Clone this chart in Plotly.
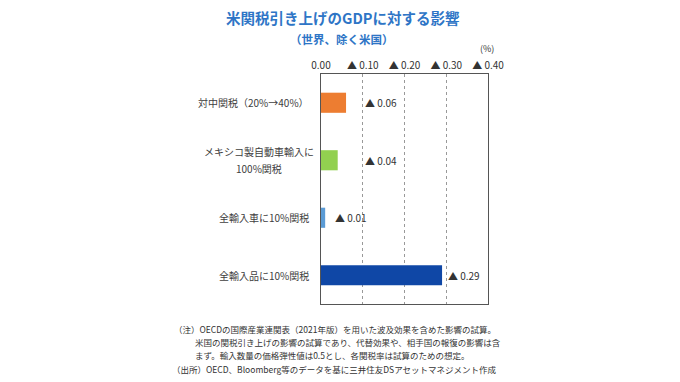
import plotly.graph_objects as go

categories = ["対中関税（20%→40%）", "メキシコ製自動車輸入に<br>100%関税", "全輸入車に10%関税", "全輸入品に10%関税"]
values = [0.06, 0.04, 0.01, 0.29]
value_labels = ["▲ 0.06", "▲ 0.04", "▲ 0.01", "▲ 0.29"]
tick_vals = [0.0, 0.1, 0.2, 0.3, 0.4]
tick_text = ["0.00", "▲ 0.10", "▲ 0.20", "▲ 0.30", "▲ 0.40"]
notes = [
    "（注）OECDの国際産業連関表（2021年版）を用いた波及効果を含めた影響の試算。",
    "米国の関税引き上げの影響の試算であり、代替効果や、相手国の報復の影響は含",
    "まず。輸入数量の価格弾性値は0.5とし、各関税率は試算のための想定。",
    "（出所）OECD、Bloomberg等のデータを基に三井住友DSアセットマネジメント作成",
]

bar_colors = ["#ED7D31", "#92D050", "#5B9BD5", "#0F47A6"]
label_x = [0.10, 0.10, 0.028, 0.30]
FONT = "Noto Sans CJK JP"
W, H = 680, 382
L, R, T, B = 321, 192, 74, 78
PW, PH = W - L - R, H - T - B


def px2paper(px, py):
    return (px - L) / PW, (H - B - py) / PH


fig = go.Figure()
fig.add_trace(go.Bar(
    x=values, y=categories, orientation="h",
    marker=dict(color=bar_colors, line=dict(width=0)),
    width=0.35, hoverinfo="skip",
))

for c, lx, lab in zip(categories, label_x, value_labels):
    fig.add_annotation(x=lx, y=c, text=lab, showarrow=False, xanchor="left",
                       font=dict(family=FONT, size=10, color="#333333"))
    lines = c.split("<br>")
    n = len(lines)
    for i, ln in enumerate(lines):
        shift = ((n - 1) / 2 - i) * 17
        fig.add_annotation(x=-0.06, xref="paper", y=c, text=ln, showarrow=False,
                           xanchor="right" if n == 1 else "center",
                           yshift=shift,
                           font=dict(family=FONT, size=10, color="#404040"))

# center multi-line labels on the widest line's center
for a in fig.layout.annotations:
    if a.xanchor == "center" and a.xref == "paper":
        a.x = -0.06 - 52 / PW

fig.update_layout(
    width=W, height=H,
    margin=dict(l=L, r=R, t=T, b=B),
    paper_bgcolor="white", plot_bgcolor="white",
    showlegend=False,
    font=dict(family=FONT, color="#404040"),
    xaxis=dict(side="top", range=[0, 0.4], tickvals=tick_vals, ticktext=tick_text,
               showgrid=True, gridcolor="#999999", griddash="dot", gridwidth=1,
               showline=True, linecolor="#555555", linewidth=1, mirror=True,
               zeroline=False, ticks="", tickfont=dict(family=FONT, size=10, color="#333333"),
               fixedrange=True),
    yaxis=dict(categoryorder="array", categoryarray=categories, autorange="reversed",
               showticklabels=False, showgrid=False, showline=True, linecolor="#555555",
               linewidth=1, mirror=True, ticks="", fixedrange=True),
)

# Title, subtitle and unit
for (px, py), txt, size, col in [
    ((342, 17), "<b>米関税引き上げのGDPに対する影響</b>", 14.5, "#2E75C6"),
    ((342, 39), "<b>（世界、除く米国）</b>", 11.5, "#2E75C6"),
    ((487, 48), "(%)", 9, "#333333"),
]:
    ax, ay = px2paper(px, py)
    fig.add_annotation(x=ax, y=ay, xref="paper", yref="paper", xanchor="center",
                       yanchor="middle", text=txt, showarrow=False,
                       font=dict(family=FONT, size=size, color=col))

note_pos = [(172, 329), (193, 342), (193, 355), (170, 369)]
for (nx, ny), t in zip(note_pos, notes):
    ax, ay = px2paper(nx, ny)
    fig.add_annotation(x=ax, y=ay, xref="paper", yref="paper",
                       xanchor="left", yanchor="middle", text=t, showarrow=False,
                       font=dict(family=FONT, size=8.5, color="#333333"))

fig.write_html("out.html")
